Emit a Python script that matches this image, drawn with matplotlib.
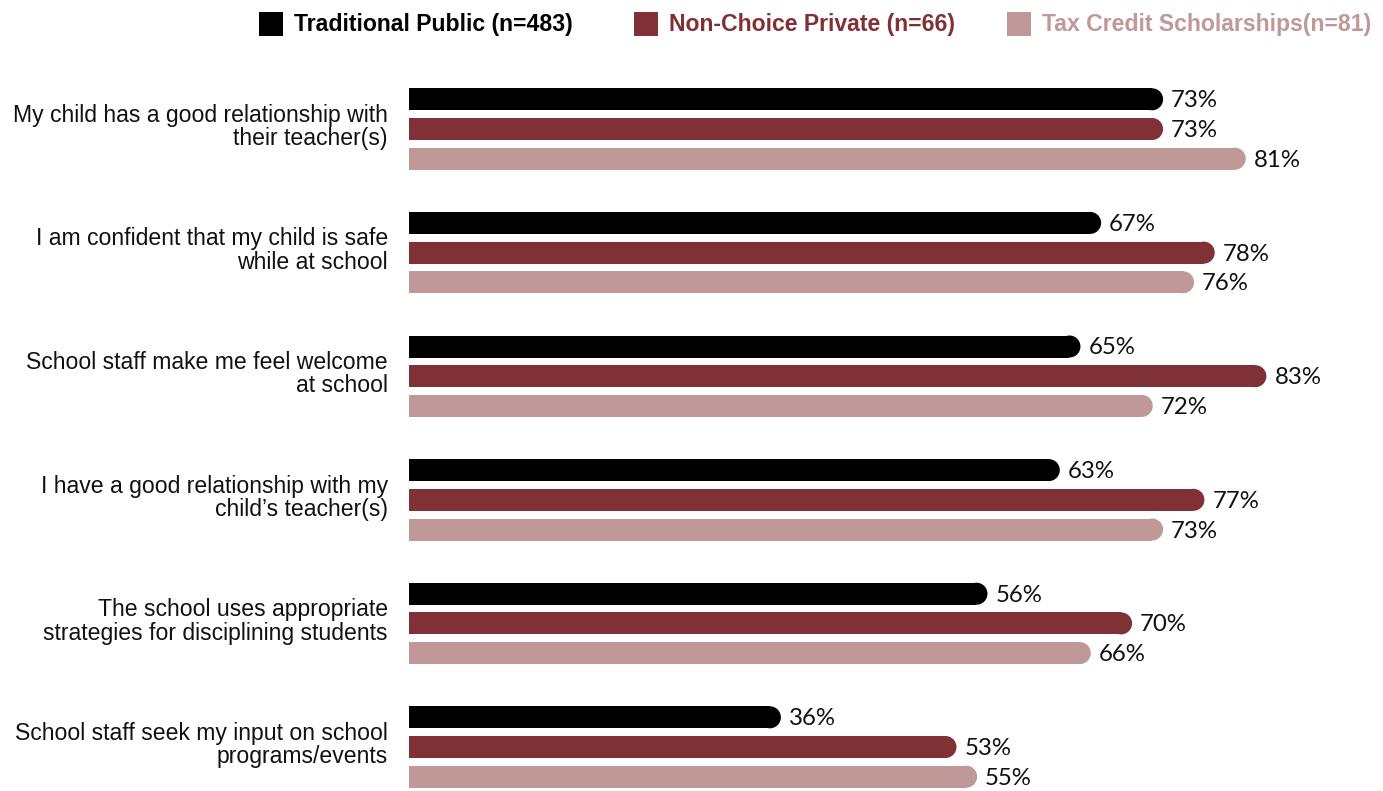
import matplotlib
matplotlib.use("Agg")
import matplotlib.pyplot as plt
from matplotlib.patches import Ellipse, Rectangle
from matplotlib import font_manager

# ---- data ----
statements = [
    "My child has a good relationship with\ntheir teacher(s)",
    "I am confident that my child is safe\nwhile at school",
    "School staff make me feel welcome\nat school",
    "I have a good relationship with my\nchild\u2019s teacher(s)",
    "The school uses appropriate\nstrategies for disciplining students",
    "School staff seek my input on school\nprograms/events",
]
series_names = [
    "Traditional Public (n=483)",
    "Non-Choice Private (n=66)",
    "Tax Credit Scholarships(n=81)",
]
traditional_public = [73, 67, 65, 63, 56, 36]
non_choice_private = [73, 78, 83, 77, 70, 53]
tax_credit = [81, 76, 72, 73, 66, 55]
series_values = [traditional_public, non_choice_private, tax_credit]
colors = ["#000000", "#7F3136", "#C09898"]

# ---- fonts ----
available = {f.name for f in font_manager.fontManager.ttflist}
label_family = ["Liberation Sans Narrow", "Liberation Sans", "DejaVu Sans"]
label_family = [f for f in label_family if f in available] or ["DejaVu Sans"]
value_family = ["Lato", "DejaVu Sans"]
value_family = [f for f in value_family if f in available] or ["DejaVu Sans"]

W, H = 1383, 791
fig = plt.figure(figsize=(W / 100, H / 100), dpi=100)
ax = fig.add_axes([0, 0, 1, 1])
ax.set_axis_off()

# layout (pixels)
x0_px = 409          # where bars start
px_per_pct = 10.33
first_center_px = 129
group_step_px = 123.6
bar_step_px = 29.7
bar_h_px = 22

ax.set_xlim(-x0_px / px_per_pct, (W - x0_px) / px_per_pct)
ax.set_ylim((H - first_center_px) / group_step_px, -first_center_px / group_step_px)

bar_off = bar_step_px / group_step_px
bar_h = bar_h_px / group_step_px
cap_w = bar_h_px / px_per_pct        # full ellipse width in x data units -> round cap

n = len(statements)
for s, (vals, col) in enumerate(zip(series_values, colors)):
    for g in range(n):
        y = g + (s - 1) * bar_off
        v = vals[g]
        ax.barh(y, v - cap_w / 2, height=bar_h, left=0, color=col, linewidth=0)
        ax.add_patch(Ellipse((v - cap_w / 2, y), cap_w, bar_h, color=col, linewidth=0))
        ax.text(v + 8 / px_per_pct, y + 1.5 / group_step_px, f"{v}%", ha="left", va="center",
                fontsize=17.3, family=value_family, color="#111111")

for g, label in enumerate(statements):
    ax.text(-21 / px_per_pct, g - 2 / group_step_px, label, ha="right", va="center",
            fontsize=16.6, family=label_family, color="#111111", linespacing=1.02)

# ---- legend ----
legend_sq_x = [259, 634, 1007]
legend_txt_x = [294, 669, 1042]
legend_text_colors = ["#000000", "#7F3136", "#C09898"]
sq = 24
for lx, tx, col, tcol, name in zip(legend_sq_x, legend_txt_x, colors, legend_text_colors, series_names):
    fig.add_artist(Rectangle((lx / W, 1 - 36 / H), sq / W, sq / H,
                             transform=fig.transFigure, color=col, linewidth=0))
    fig.text(tx / W, 1 - 25 / H, name, ha="left", va="center", fontsize=16.6,
             fontweight="bold", family=label_family, color=tcol)

fig.savefig("out.png", dpi=100)
